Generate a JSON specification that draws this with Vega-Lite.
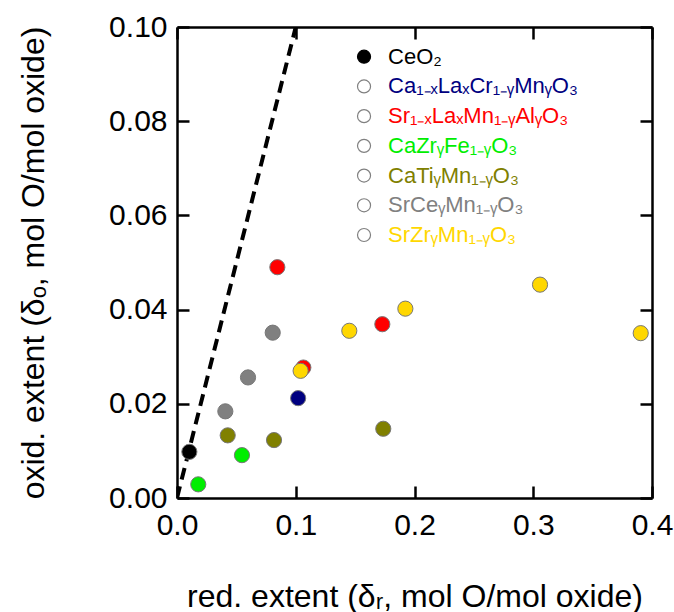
{
  "$schema": "https://vega.github.io/schema/vega-lite/v6.json",
  "width": 475,
  "height": 471,
  "autosize": "none",
  "padding": {"left": 177, "top": 27, "right": 22, "bottom": 114},
  "background": "white",
  "config": {
    "view": {"stroke": null},
    "font": "Liberation Sans",
    "axis": {
      "grid": false,
      "domainColor": "black",
      "domainWidth": 2.5,
      "tickColor": "black",
      "tickWidth": 2.5,
      "tickSize": -12,
      "labelColor": "black",
      "labelFont": "Liberation Sans",
      "labelFontSize": 30,
      "titleFont": "Liberation Sans",
      "titleFontSize": 32,
      "titleFontWeight": "normal",
      "titleColor": "black",
      "labelFlush": false,
      "labelOverlap": false
    }
  },
  "datasets": {
    "pts": [
      {"x": 0.0104, "y": 0.0098, "material": "CeO₂"},
      {"x": 0.102, "y": 0.0212, "material": "Ca₁₋ₓLaₓCr₁₋ᵧMnᵧO₃"},
      {"x": 0.0845, "y": 0.049, "material": "Sr₁₋ₓLaₓMn₁₋ᵧAlᵧO₃"},
      {"x": 0.1064, "y": 0.0277, "material": "Sr₁₋ₓLaₓMn₁₋ᵧAlᵧO₃"},
      {"x": 0.1729, "y": 0.0369, "material": "Sr₁₋ₓLaₓMn₁₋ᵧAlᵧO₃"},
      {"x": 0.0547, "y": 0.0091, "material": "CaZrᵧFe₁₋ᵧO₃"},
      {"x": 0.0179, "y": 0.0029, "material": "CaZrᵧFe₁₋ᵧO₃"},
      {"x": 0.0427, "y": 0.0133, "material": "CaTiᵧMn₁₋ᵧO₃"},
      {"x": 0.0817, "y": 0.0123, "material": "CaTiᵧMn₁₋ᵧO₃"},
      {"x": 0.1737, "y": 0.0147, "material": "CaTiᵧMn₁₋ᵧO₃"},
      {"x": 0.0806, "y": 0.0351, "material": "SrCeᵧMn₁₋ᵧO₃"},
      {"x": 0.0598, "y": 0.0256, "material": "SrCeᵧMn₁₋ᵧO₃"},
      {"x": 0.0407, "y": 0.0184, "material": "SrCeᵧMn₁₋ᵧO₃"},
      {"x": 0.1041, "y": 0.027, "material": "SrZrᵧMn₁₋ᵧO₃"},
      {"x": 0.1451, "y": 0.0355, "material": "SrZrᵧMn₁₋ᵧO₃"},
      {"x": 0.1923, "y": 0.0402, "material": "SrZrᵧMn₁₋ᵧO₃"},
      {"x": 0.3057, "y": 0.0453, "material": "SrZrᵧMn₁₋ᵧO₃"},
      {"x": 0.3905, "y": 0.035, "material": "SrZrᵧMn₁₋ᵧO₃"}
    ],
    "parity": [
      {"x": 0, "y": 0},
      {"x": 0.1, "y": 0.1}
    ],
    "key": [
      {"material": "CeO₂"},
      {"material": "Ca₁₋ₓLaₓCr₁₋ᵧMnᵧO₃"},
      {"material": "Sr₁₋ₓLaₓMn₁₋ᵧAlᵧO₃"},
      {"material": "CaZrᵧFe₁₋ᵧO₃"},
      {"material": "CaTiᵧMn₁₋ᵧO₃"},
      {"material": "SrCeᵧMn₁₋ᵧO₃"},
      {"material": "SrZrᵧMn₁₋ᵧO₃"}
    ]
  },
  "layer": [
    {
      "data": {"name": "parity"},
      "mark": {"type": "line", "color": "black", "strokeWidth": 4, "strokeDash": [12, 7], "clip": true},
      "encoding": {
        "x": {"field": "x", "type": "quantitative", "scale": {"domain": [0, 0.4], "nice": false, "zero": false},
              "axis": {"orient": "top", "labels": false, "title": null, "values": [0, 0.1, 0.2, 0.3, 0.4]}},
        "y": {"field": "y", "type": "quantitative", "scale": {"domain": [0, 0.1], "nice": false, "zero": false},
              "axis": {"orient": "right", "labels": false, "title": null, "values": [0, 0.02, 0.04, 0.06, 0.08, 0.1]}}
      }
    },
    {
      "data": {"name": "pts"},
      "mark": {"type": "circle", "size": 230, "opacity": 1, "stroke": "#777777", "strokeWidth": 1},
      "encoding": {
        "x": {"field": "x", "type": "quantitative",
              "axis": {"orient": "bottom", "values": [0, 0.1, 0.2, 0.3, 0.4], "format": ".1f",
                       "title": "red. extent (δᵣ, mol O/mol oxide)", "labelPadding": 24, "titlePadding": 41}},
        "y": {"field": "y", "type": "quantitative", "scale": {"domain": [0, 0.1], "nice": false, "zero": false},
              "axis": {"orient": "left", "values": [0, 0.02, 0.04, 0.06, 0.08, 0.1], "format": ".2f",
                       "title": "oxid. extent (δₒ, mol O/mol oxide)", "labelPadding": 22, "titlePadding": 58}},
        "color": {
          "field": "material", "type": "nominal",
          "scale": {
            "domain": ["CeO₂", "Ca₁₋ₓLaₓCr₁₋ᵧMnᵧO₃", "Sr₁₋ₓLaₓMn₁₋ᵧAlᵧO₃", "CaZrᵧFe₁₋ᵧO₃", "CaTiᵧMn₁₋ᵧO₃", "SrCeᵧMn₁₋ᵧO₃", "SrZrᵧMn₁₋ᵧO₃"],
            "range": ["#000000", "#000080", "#ff0000", "#00ee00", "#808000", "#808080", "#ffd700"]
          },
          "legend": null
        }
      }
    },
    {
      "data": {"name": "key"},
      "mark": {"type": "circle", "size": 170, "opacity": 1, "strokeWidth": 1.2},
      "encoding": {
        "x": {"datum": 0.1575, "type": "quantitative", "axis": null},
        "y": {"field": "material", "type": "nominal", "sort": null,
              "scale": {"type": "point", "range": [29.7, 208], "padding": 0}, "axis": null},
        "fill": {"condition": {"test": "datum.material === 'CeO₂'", "value": "#000000"}, "value": "#ffffff"},
        "stroke": {"condition": {"test": "datum.material === 'CeO₂'", "value": "#000000"}, "value": "#808080"}
      }
    },
    {
      "data": {"name": "key"},
      "mark": {"type": "text", "align": "left", "baseline": "middle", "fontSize": 22, "font": "Liberation Sans"},
      "encoding": {
        "x": {"datum": 0.1777, "type": "quantitative", "axis": null},
        "y": {"field": "material", "type": "nominal", "sort": null,
              "scale": {"type": "point", "range": [29.7, 208], "padding": 0}, "axis": null},
        "text": {"field": "material"},
        "color": {"field": "material", "type": "nominal", "legend": null}
      }
    }
  ],
  "resolve": {"axis": {"x": "independent", "y": "independent"}, "scale": {"y": "independent"}}
}
